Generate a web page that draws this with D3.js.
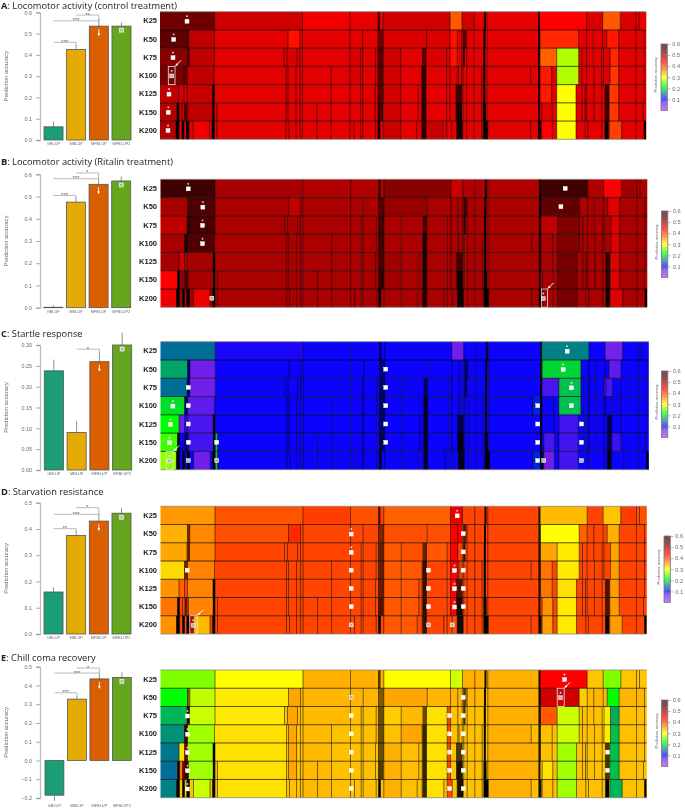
<!DOCTYPE html>
<html><head><meta charset="utf-8">
<script src="https://cdn.jsdelivr.net/npm/d3@7"></script>
<style>html,body{margin:0;padding:0;background:#fff}svg{display:block;filter:blur(.3px)}</style>
</head><body><svg id="c" width="685" height="809"></svg>
<script>
const methods=["GBLUP","MBLUP","MFBLUP","MFBLUP2"];
const rowNames=["K25","K50","K75","K100","K125","K150","K200"];
const colorDomain=[0,.07,.1,.15,.19,.22,.26,.3,.34,.38,.4,.44,.48,.52,.56,.6];
const colorRange=["#a040ff","#7020e8","#0000ff","#00788c","#00c050","#00ff00","#80ff00","#ffff00","#ffb000","#ff6000","#ff4000","#ff0000","#c00000","#800000","#400000","#300000"];

// module boundaries of each K, in module-size units
const breaksK25=[0,54.5,142.5,190,218,223.3,290,302,314.3,324.3,327.3,378.7,426.7,442.7,460.3,476,479,486];
const breaksK50=[0,27,29.3,54.5,128,140,142.5,190,202.7,218,223.3,266.7,290,297.3,301.7,303.3,306.7,314.3,324.3,327.3,378.7,380,418.7,426.7,433.3,442.7,446.7,458.7,476,484,486];
const breaksK75=[0,26.5,29,54.5,124,127,137,140,142.5,190,200.7,202.7,215.7,218,223.3,240.7,266,286.7,290,297.3,301.7,303.3,306.7,314.3,327.3,378.7,380,396.7,418.7,422,426.7,433.3,441.7,443.5,450,458.7,476,484,486];
const breaksK100=[0,24,27,54,126,128,136,140,142.5,171,190,200.7,202.7,215.7,218,223.3,240.7,261.7,266,286.7,290,297.3,298.5,301.7,303.3,306.7,314.3,321.7,327.3,370.7,378.7,380,391.7,396.7,418.7,422,426.7,434,441.7,443.5,450,458.7,476,484,486];
const breaksK125=[0,18.5,24,27,52.5,54.5,126,128,136,140,142.5,171,190,200.7,202.7,215,218,223.3,240.7,258.3,261.7,266,286.7,290,296,301.7,303.3,306.7,314.3,321.7,327.3,378.7,380,391.7,396.7,416,422,425,426.7,434,441.7,445,449.3,458.7,476,484,486];
const breaksK150=[0,17,19,22,28,52.7,54.5,57,126,128,136,140,142.5,157,171,190,200.7,202.7,215,218,223.3,240.7,258.3,261.7,266,286.7,290,296,301.7,303.3,306.7,314.3,321.7,327.3,378.7,381.7,392.3,396.7,416,422,425,426.7,434,441.7,445,449.3,458.7,476,483,486];
const breaksK200=[0,16,19,22,24,29,33,49.5,52,54.5,57,126,129,136,140,142.5,157,171,190,194,200.7,202.7,215.7,218,220,223.3,240.7,256.7,261.7,266,283.3,286.7,291.7,296.7,302.7,306.7,314.3,321.7,323.3,327.8,370.7,378.7,381.7,392.3,396.7,416,425.3,428,441.7,445,449.3,461.7,476,484,486];
const rowBreaks=[breaksK25,breaksK50,breaksK75,breaksK100,breaksK125,breaksK150,breaksK200];

// narrow modules packed so tightly they read as dark bands: [from,to,darkness]
const denseK25=[[218,220,.7],[324.3,326,.9],[378,380,.8]];
const denseK50=[[218,223.3,.5],[27,29,.5],[323.5,325.5,.9],[378,380,.8],[303,306,.6]];
const denseK75=[[218,223.3,.6],[27,29,.6],[262,266,.6],[323.3,325.3,1],[378,380,.8],[303,305,.7]];
const denseK100=[[218,223.3,.6],[24,27,.5],[262,266,.8],[323.3,325.3,1],[378,380,.8]];
const denseK125=[[218,223.3,.6],[52.5,54.5,1],[262,266,.8],[296,301.7,.7],[323.3,325.3,1],[378,380,.8],[445,449,.7]];
const denseK150=[[17,19,1],[24,27,.6],[52.5,54.5,.9],[218,223,.7],[262,266,.8],[296,302,.9],[323,326,1],[378,380,.8],[445,449,.7]];
const denseK200=[[16,19,1],[22,24,1],[26,29,1],[52,54.5,1],[218,220,1],[262,266,.8],[296.7,302.7,.9],[323.3,327.8,1],[378,381,.9],[445,448.5,1],[484,486,1]];
const rowDense=[denseK25,denseK50,denseK75,denseK100,denseK125,denseK150,denseK200];

// Panel A
const accA=[.062,.425,.535,.535];
const errA=[.088,.45,.57,.552];
const sigA=[[0,1,.459,"***"],[0,2,.56,"***"],[1,2,.587,"**"]];
const baseA=[.455,.458,.458,.458,.458,.458,.458];
const heatA=[
 [[0,54.5,.53],[54.5,142.5,.472],[142.5,190,.448],[223.3,290,.47],[290,302,.385],[302,314.3,.47],[378.7,426.7,.44],[426.7,442.7,.465],[442.7,460.3,.385],[460.3,476,.465]],
 [[0,27,.54],[29,54.5,.48],[128,140,.43],[223.3,290,.465],[290,297.3,.43],[378.7,418.7,.415],[446.7,458.7,.425]],
 [[0,26.5,.515],[29,54.5,.48],[127,137,.465],[190,200.7,.465],[223.3,240.7,.47],[266,286.7,.465],[290,297.3,.43],[378.7,396.7,.38],[396.7,418.7,.275],[450,458.7,.415]],
 [[0,24,.525],[27,54,.48],[190,200.7,.465],[223.3,240.7,.47],[378.7,391.7,.425],[396.7,418.7,.275],[450,458.7,.405]],
 [[0,18.5,.48],[18.5,24,.47],[27,52.5,.475],[223.3,240.7,.47],[378.7,391.7,.425],[396.7,416,.3],[450,458.7,.405]],
 [[0,17,.49],[19,28,.475],[28,52.7,.48],[223.3,240.7,.47],[396.7,416,.3],[449.3,458.7,.405]],
 [[0,16,.49],[33,49.5,.45],[223.3,240.7,.475],[266,283.3,.475],[381.7,392.3,.44],[396.7,416,.3],[449.3,458.7,.4]]];
const markA=[[0,27,"star"],[1,13.7,"star"],[2,13,"star"],[3,11.7,"starx"],[4,9,"star"],[5,8.3,"star"],[6,8,"star"]];
const boxA=[[3,8.3,15]];

// Panel B
const accB=[.002,.475,.555,.57];
const errB=[.012,.5,.585,.59];
const sigB=[[0,1,.505,"***"],[0,2,.58,"***"],[1,2,.606,"*"]];
const baseB=[.49,.493,.493,.493,.493,.493,.493];
const heatB=[
 [[0,54.5,.565],[54.5,142.5,.495],[223.3,290,.515],[290,302,.475],[378.7,426.7,.56],[442.7,460.3,.44],[460.3,476,.5]],
 [[0,27,.495],[29,54.5,.55],[128,140,.48],[223.3,266.7,.505],[378.7,418.7,.54],[418.7,426.7,.49],[446.7,458.7,.46]],
 [[0,26.5,.48],[26.5,54.5,.555],[378.7,396.7,.48],[396.7,418.7,.52],[450,458.7,.46]],
 [[0,24,.495],[24,54,.55],[396.7,418.7,.52],[450,458.7,.46]],
 [[0,18.5,.495],[18.5,24,.47],[27,52.5,.495],[223.3,240.7,.5],[296,301.7,.47],[396.7,416,.525],[449.3,458.7,.46]],
 [[0,17,.44],[19,28,.5],[28,52.7,.495],[223.3,240.7,.5],[396.7,416,.525],[449.3,458.7,.46]],
 [[0,16,.45],[33,49.5,.45],[396.7,416,.525],[449.3,458.7,.46]]];
const markB=[[0,27.7,"star"],[1,42.3,"star"],[2,42,"star"],[3,42,"star"],[6,51.3,"x"],[0,404.3,"plain"],[1,400,"plain"],[6,382.3,"starx"]];
const boxB=[[6,380.5,386.5]];

// Panel C
const accC=[.238,.09,.26,.3];
const errC=[.265,.117,.285,.33];
const sigC=[[1,2,.29,"*"]];
const baseC=[.097,.097,.097,.097,.097,.097,.097];
const heatC=[
 [[0,54.5,.145],[54.5,142.5,.093],[290,302,.07],[378.7,426.7,.155],[442.7,460.3,.065]],
 [[0,27,.175],[29,54.5,.07],[378.7,418.7,.2],[446.7,458.7,.075]],
 [[0,26.5,.145],[29,54.5,.07],[378.7,396.7,.08],[396.7,418.7,.19],[441.7,450,.08]],
 [[0,24,.205],[27,54,.075],[370.7,378.7,.115],[396.7,418.7,.19]],
 [[0,18.5,.22],[18.5,24,.07],[24,27,.09],[27,52.5,.08],[370.7,378.7,.115],[396.7,416,.082]],
 [[0,17,.24],[28,52.7,.082],[54.5,57,.19],[370.7,378.7,.115],[381.7,392.3,.08],[396.7,416,.082],[449.3,458.7,.085]],
 [[0,16,.265],[33,49.5,.07],[54.5,57,.19],[370.7,378.7,.115],[381.7,392.3,.07],[396.7,416,.082]]];
const markC=[[2,27.7,"plain"],[3,12.3,"star"],[3,27.7,"plain"],[4,10,"star"],[4,27.7,"plain"],[5,9,"star"],[5,27.7,"plain"],[5,56,"plain"],[6,9,"starx"],[6,27.7,"x"],[6,56,"x"],
 [1,224.3,"plain"],[2,224.3,"plain"],[3,224.3,"plain"],[4,224.3,"plain"],[5,224.3,"plain"],[3,375.7,"plain"],[4,375.7,"plain"],[5,375.7,"plain"],[6,375.7,"plain"],[6,381.7,"x"],
 [0,405,"star"],[1,401,"star"],[2,409.3,"star"],[3,409.3,"plain"],[4,419.3,"plain"],[5,419.3,"plain"],[6,419.3,"x"]];
const boxC=[[6,5.7,12.7]];

// Panel D
const accD=[.16,.375,.43,.46];
const errD=[.178,.395,.46,.48];
const sigD=[[0,1,.401,"**"],[0,2,.456,"***"],[1,2,.481,"*"]];
const baseD=[.398,.397,.397,.397,.397,.397,.397];
const heatD=[
 [[0,54.5,.352],[54.5,142.5,.388],[142.5,190,.402],[190,218,.39],[223.3,290,.38],[290,302,.45],[378.7,426.7,.335],[442.7,460.3,.33],[460.3,476,.402],[476,486,.39]],
 [[0,27,.34],[29,54.5,.36],[54.5,128,.39],[128,140,.415],[223.3,290,.39],[290,301.7,.44],[378.7,418.7,.3],[446.7,458.7,.34],[418.7,426.7,.38]],
 [[0,26.5,.345],[29,54.5,.363],[223.3,240.7,.385],[240.7,262,.39],[266,286.7,.385],[290,297.3,.44],[378.7,396.7,.345],[396.7,418.7,.31],[450,458.7,.345]],
 [[0,24,.32],[27,54,.363],[290,297.3,.44],[223.3,262,.385],[378.7,391.7,.37],[396.7,418.7,.31],[449.3,458.7,.35]],
 [[0,18.5,.355],[18.5,24,.38],[27,52.5,.363],[223.3,258.3,.385],[290,296,.44],[378.7,391.7,.37],[396.7,416,.315],[449.3,458.7,.35]],
 [[0,17,.37],[28,52.7,.363],[223.3,258.3,.385],[290,296,.44],[381.7,392.3,.355],[396.7,416,.31],[449.3,458.7,.35]],
 [[0,16,.355],[29,33,.48],[33,49.5,.335],[223.3,256.7,.385],[291.7,296.7,.39],[381.7,392.3,.35],[396.7,416,.31],[449.3,461.7,.35]]];
const markD=[[3,26.7,"plain"],[6,32.7,"starx"],[0,296.7,"star"],[1,190.7,"star"],[1,302.7,"plain"],[2,190.7,"star"],[2,302.7,"plain"],[3,190.7,"plain"],[3,268,"plain"],[3,294,"star"],[3,302.7,"plain"],
 [4,190.7,"plain"],[4,268,"plain"],[4,294,"star"],[4,302.7,"plain"],[5,190.7,"plain"],[5,268,"plain"],[5,294,"star"],[5,302.7,"plain"],[6,190.7,"x"],[6,268,"x"],[6,291.7,"x"]];
const boxD=[[6,29.3,36.7]];

// Panel E
const accE=[-.185,.327,.435,.443];
const errE=[-.215,.345,.46,.47];
const sigE=[[0,1,.361,"***"],[0,2,.466,"***"],[1,2,.493,"*"]];
const baseE=[.34,.337,.332,.332,.332,.332,.332];
const heatE=[
 [[0,54.5,.26],[54.5,142.5,.3],[223.3,290,.3],[290,302,.285],[378.7,426.7,.44],[426.7,442.7,.33],[442.7,460.3,.26],[460.3,486,.33]],
 [[0,27,.22],[29,54.5,.28],[54.5,128,.31],[128,140,.345],[223.3,266.7,.345],[327.3,378.7,.34],[378.7,418.7,.47],[418.7,426.7,.325],[446.7,458.7,.22]],
 [[0,26.5,.185],[26.5,29,.52],[29,54.5,.283],[54.5,124,.31],[127,137,.345],[142.5,190,.335],[223.3,240.7,.325],[240.7,262,.335],[266,286.7,.315],[286.7,290,.4],[327.3,378.7,.34],[378.7,396.7,.385],[396.7,418.7,.283],[441.7,450,.31],[450,458.7,.18]],
 [[0,24,.165],[24,27,.52],[27,54,.27],[54,126,.315],[128,136,.345],[142.5,171,.335],[240.7,261.7,.345],[266,286.7,.315],[327.3,370.7,.34],[396.7,418.7,.285],[443.5,450,.31],[450,458.7,.19]],
 [[0,18.5,.15],[18.5,24,.315],[24,27,.52],[27,52.5,.27],[54.5,126,.315],[128,136,.345],[142.5,171,.335],[223.3,240.7,.34],[266,286.7,.315],[327.3,378.7,.34],[396.7,416,.27],[449.3,458.7,.19]],
 [[0,17,.145],[17,22,.37],[24,27,.52],[28,52.7,.27],[57,126,.315],[128,136,.345],[142.5,171,.335],[223.3,240.7,.34],[266,286.7,.315],[327.3,378.7,.34],[381.7,392.3,.315],[396.7,416,.27],[449.3,458.7,.19]],
 [[0,16,.155],[24,26,.52],[33,49.5,.283],[57,126,.315],[142.5,171,.335],[223.3,240.7,.34],[266,283.3,.315],[327.8,370.7,.34],[396.7,416,.27],[449.3,461.7,.185]]];
const stripE=[[2,286.7,290,.395],[3,286.7,290,.395],[4,286.7,290,.395],[5,286.7,290,.395],[6,286.7,291.7,.395],[2,443.5,445,.4],[3,443.5,445,.42],[4,443.5,445,.42]];
const markE=[[2,27,"star"],[3,27,"star"],[4,27,"star"],[5,27,"star"],[6,27,"star"],[0,404,"star"],[1,400,"starx"],[1,190.7,"x"],[1,302.7,"plain"],
 [2,190.7,"plain"],[2,289,"plain"],[2,302.7,"plain"],[3,190.7,"plain"],[3,289,"plain"],[3,302.7,"plain"],[4,190.7,"plain"],[4,289,"plain"],[4,302.7,"plain"],[4,447,"plain"],
 [5,190.7,"plain"],[5,289,"plain"],[5,302.7,"plain"],[5,447,"plain"],[6,190.7,"plain"],[6,289,"plain"],[6,302.7,"plain"]];
const boxE=[[1,396.7,403.7]];

const legendTicks=[.1,.2,.3,.4,.5,.6];
const axisA=[0,.1,.2,.3,.4,.5,.6], axisC=[0,.05,.1,.15,.2,.25,.3], axisD=[0,.1,.2,.3,.4,.5], axisE=[-.2,-.1,0,.1,.2,.3,.4,.5];

// layout only
const panels=[
 {letter:"A",title:": Locomotor activity (control treatment)",ty:9.4,acc:accA,err:errA,sig:sigA,base:baseA,heat:heatA,mark:markA,box:boxA,ticks:axisA,fmt:".1f",dom:[0,.6],yr:[140,12.3],bx:[44,131],hx:[160,646],hy:[11.7,139.3],leg:[661,44],catY:144.5},
 {letter:"B",title:": Locomotor activity (Ritalin treatment)",ty:165,acc:accB,err:errB,sig:sigB,base:baseB,heat:heatB,mark:markB,box:boxB,ticks:axisA,fmt:".1f",dom:[0,.6],yr:[307.7,174.3],bx:[43.8,130.7],hx:[160.5,647],hy:[179.3,307.3],leg:[661.5,211],catY:313},
 {letter:"C",title:": Startle response",ty:337,acc:accC,err:errC,sig:sigC,base:baseC,heat:heatC,mark:markC,box:boxC,ticks:axisC,fmt:".2f",dom:[0,.3],yr:[470,345],bx:[44.3,131.7],hx:[160.5,648.5],hy:[341.7,469.7],leg:[661.5,371],catY:474.5},
 {letter:"D",title:": Starvation resistance",ty:495,acc:accD,err:errD,sig:sigD,base:baseD,heat:heatD,mark:markD,box:boxD,ticks:axisD,fmt:".1f",dom:[0,.5],yr:[634,502.7],bx:[44,131],hx:[160.5,646.5],hy:[506.3,634],leg:[664,536],catY:639},
 {letter:"E",title:": Chill coma recovery",ty:661,acc:accE,err:errE,sig:sigE,base:baseE,heat:heatE,strip:stripE,mark:markE,box:boxE,ticks:axisE,fmt:".1f",dom:[-.2,.5],yr:[798,666.7],bx:[45,131.3],hx:[160.5,646.5],hy:[670,797.7],leg:[661.5,700],catY:807}
];
const barColors=d3.scaleOrdinal(methods,d3.schemeDark2.slice(0,1).concat(["#e6ab02","#d95f02","#66a61e"]));
const color=d3.scaleLinear().domain(colorDomain).range(colorRange).clamp(true);
const svg=d3.select("#c");
const defs=svg.append("defs");
const grad=defs.append("linearGradient").attr("id","lg").attr("x1",0).attr("x2",0).attr("y1",1).attr("y2",0);
colorDomain.forEach(v=>grad.append("stop").attr("offset",v/.6).attr("stop-color",color(v)).attr("stop-opacity",.7));
const GREY="#6b6b6b";

panels.forEach(p=>{
 const t=svg.append("text").attr("x",1).attr("y",p.ty).attr("font-family","'Open Sans'").attr("font-size",9.3).attr("fill","#222");
 t.append("tspan").attr("font-weight",700).text(p.letter);
 t.append("tspan").text(p.title);

 // bars
 const y=d3.scaleLinear().domain(p.dom).range(p.yr);
 const x=d3.scaleBand().domain(methods).range(p.bx).paddingInner(.16).paddingOuter(0);
 const g=svg.append("g");
 const ax=g.append("g").attr("transform","translate(40,0)").call(d3.axisLeft(y).tickValues(p.ticks).tickFormat(d3.format(p.fmt)).tickSize(4).tickPadding(4));
 ax.select(".domain").attr("stroke","#bdbdbd").attr("stroke-width",1.3);
 ax.selectAll(".tick line").attr("stroke","#888").attr("stroke-width",.7);
 ax.selectAll("text").attr("font-family","'Liberation Sans'").attr("font-size",5.4).attr("fill",GREY);
 g.append("text").attr("transform",`translate(8,${(p.yr[0]+p.yr[1])/2}) rotate(-90)`).attr("text-anchor","middle").attr("font-family","'Liberation Sans'").attr("font-size",5.8).attr("fill",GREY).text("Prediction accuracy");
 methods.forEach((m,i)=>{
  const v=p.acc[i],bx=x(m),bw=x.bandwidth(),cx=bx+bw/2;
  g.append("line").attr("x1",cx).attr("x2",cx).attr("y1",y(v)).attr("y2",y(p.err[i])).attr("stroke","#777").attr("stroke-width",.8);
  g.append("rect").attr("x",bx).attr("width",bw).attr("y",Math.min(y(v),y(0))).attr("height",Math.abs(y(v)-y(0))).attr("fill",barColors(m)).attr("stroke","#555").attr("stroke-width",.8);
  g.append("text").attr("x",cx).attr("y",p.catY).attr("text-anchor","middle").attr("font-family","'Liberation Sans'").attr("font-size",3.9).attr("fill",GREY).text(m);
 });
 p.sig.forEach(s=>{
  const x0=x(methods[s[0]])+x.bandwidth()/2,x1=x(methods[s[1]])+x.bandwidth()/2,yy=y(s[2]);
  g.append("path").attr("d",`M${x0},${yy}H${x1}V${y(p.err[s[1]])}`).attr("fill","none").attr("stroke","#a8a8a8").attr("stroke-width",.8);
  g.append("text").attr("x",(x0+x1)/2).attr("y",yy+1.5).attr("text-anchor","middle").attr("font-family","'Liberation Sans'").attr("font-size",6).attr("fill","#666").text(s[3]);
 });
 // MFBLUP arrow and MFBLUP2 marker inside the bars
 const ac=x("MFBLUP")+x.bandwidth()/2,at=y(p.acc[2]);
 g.append("path").attr("d",`M${ac},${at+3}V${at+9}`).attr("stroke","#fff").attr("stroke-width",.9);
 g.append("path").attr("d",`M${ac-1.3},${at+7}L${ac},${at+10}L${ac+1.3},${at+7}Z`).attr("fill","#fff");
 const sc=x("MFBLUP2")+x.bandwidth()/2,st=y(p.acc[3])+4;
 g.append("rect").attr("x",sc-2).attr("y",st-2).attr("width",4).attr("height",4).attr("fill","#ddd").attr("stroke","#fff").attr("stroke-width",.6);
 g.append("path").attr("d",`M${sc-1.4},${st-1.4}L${sc+1.4},${st+1.4}M${sc+1.4},${st-1.4}L${sc-1.4},${st+1.4}`).attr("stroke","#666").attr("stroke-width",.5);

 // heatmap
 const hx=d3.scaleLinear().domain([0,486]).range(p.hx);
 const hy=d3.scaleBand().domain(rowNames).range(p.hy);
 const h=svg.append("g");
 rowNames.forEach((r,ri)=>{
  const ry=hy(r),rh=hy.bandwidth(),bks=rowBreaks[ri];
  const spans=p.heat[ri];
  const segs=d3.pairs(bks).map(([a,b])=>{
   const mid=(a+b)/2;let v=p.base[ri];
   spans.forEach(s=>{if(mid>=s[0]&&mid<s[1])v=s[2];});
   (p.strip||[]).forEach(s=>{if(s[0]===ri&&mid>=s[1]&&mid<s[2])v=s[3];});
   return {a,b,v};
  });
  h.append("g").selectAll("rect").data(segs).join("rect")
   .attr("x",d=>hx(d.a)).attr("width",d=>hx(d.b)-hx(d.a)+.3).attr("y",ry).attr("height",rh).attr("fill",d=>color(d.v));
  h.append("g").selectAll("rect").data(rowDense[ri]).join("rect")
   .attr("x",d=>hx(d[0])).attr("width",d=>hx(d[1])-hx(d[0])).attr("y",ry).attr("height",rh).attr("fill","#000").attr("opacity",d=>d[2]);
  h.append("g").selectAll("line").data(bks.slice(1,-1)).join("line")
   .attr("x1",d=>hx(d)).attr("x2",d=>hx(d)).attr("y1",ry).attr("y2",ry+rh).attr("stroke","#000").attr("stroke-opacity",.75).attr("stroke-width",.7);
  h.append("text").attr("x",157).attr("y",ry+rh/2+2.6).attr("text-anchor","end").attr("font-family","'Liberation Sans'").attr("font-weight",700).attr("font-size",7.5).attr("fill","#222").text(r);
 });
 rowNames.forEach((r,i)=>{ if(i)h.append("line").attr("x1",p.hx[0]).attr("x2",p.hx[1]).attr("y1",hy(r)).attr("y2",hy(r)).attr("stroke","#000").attr("stroke-opacity",.85).attr("stroke-width",.8); });
 [p.hy[0],p.hy[1]].forEach(v=>h.append("line").attr("x1",p.hx[0]).attr("x2",p.hx[1]).attr("y1",v).attr("y2",v).attr("stroke","#888").attr("stroke-width",.8));

 // module highlight boxes and arrows
 p.box.forEach(b=>{
  const ry=hy(rowNames[b[0]]),rh=hy.bandwidth();
  h.append("rect").attr("x",hx(b[1])).attr("y",ry).attr("width",hx(b[2])-hx(b[1])).attr("height",rh).attr("fill","none").attr("stroke","#e8e8e8").attr("stroke-width",.8);
  const ax0=hx(b[2])+1,ay0=ry-1;
  h.append("path").attr("d",`M${ax0},${ay0}L${ax0+5},${ay0-5}`).attr("stroke","#fff").attr("stroke-width",1);
  h.append("path").attr("d",`M${ax0-1},${ay0+1}L${ax0+2.2},${ay0-.5}L${ax0+.5},${ay0-2.2}Z`).attr("fill","#fff");
 });
 // significance markers
 p.mark.forEach(m=>{
  const cx=hx(m[1]),cy=hy(rowNames[m[0]])+hy.bandwidth()/2+(m[2]==="x"||m[2]==="plain"?0:.4);
  const crossed=m[2]==="x"||m[2]==="starx";
  h.append("rect").attr("x",cx-2).attr("y",cy-2).attr("width",4).attr("height",4).attr("fill",crossed?"#ddd":"#fff").attr("stroke","#fff").attr("stroke-width",.4);
  if(crossed)h.append("path").attr("d",`M${cx-1.4},${cy-1.4}L${cx+1.4},${cy+1.4}M${cx+1.4},${cy-1.4}L${cx-1.4},${cy+1.4}`).attr("stroke","#666").attr("stroke-width",.5);
  if(m[2]==="star"||m[2]==="starx")h.append("path").attr("transform",`translate(${cx},${cy-5})`).attr("d",d3.symbol(d3.symbolAsterisk,3)).attr("stroke","#fff").attr("stroke-width",.5).attr("fill","none");
 });

 // legend
 const ly=d3.scaleLinear().domain([0,.6]).range([p.leg[1]+66.5,p.leg[1]]);
 const lg=svg.append("g");
 lg.append("rect").attr("x",p.leg[0]).attr("y",p.leg[1]).attr("width",6.3).attr("height",66.5).attr("fill","url(#lg)").attr("stroke","#777").attr("stroke-width",.8);
 const la=lg.append("g").attr("transform",`translate(${p.leg[0]+6.3},0)`).call(d3.axisRight(ly).tickValues(legendTicks).tickFormat(d3.format(".1f")).tickSize(3).tickPadding(2));
 la.select(".domain").remove();
 la.selectAll(".tick line").attr("stroke","#888").attr("stroke-width",.6);
 la.selectAll("text").attr("font-family","'Liberation Sans'").attr("font-size",5.6).attr("fill",GREY);
 lg.append("text").attr("transform",`translate(${p.leg[0]-4},${p.leg[1]+31}) rotate(-90)`).attr("text-anchor","middle").attr("font-family","'Liberation Sans'").attr("font-size",4).attr("fill",GREY).text("Prediction accuracy");
});
</script></body></html>
